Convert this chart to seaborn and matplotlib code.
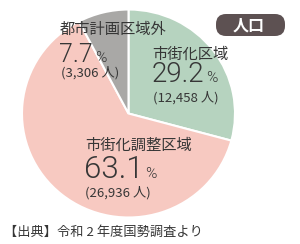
import matplotlib
matplotlib.use("Agg")
import matplotlib.pyplot as plt
import seaborn as sns
from matplotlib.patches import FancyBboxPatch

sns.set_theme(style="white")
plt.rcParams['font.family'] = ['Noto Sans CJK JP', 'DejaVu Sans']

categories = ["市街化区域", "市街化調整区域", "都市計画区域外"]
shares = [29.2, 63.1, 7.7]
people = ["12,458", "26,936", "3,306"]
colors = ["#b6d3bf", "#f7c9c1", "#a9a8a6"]
title_badge = "人口"
source = "【出典】令和 2 年度国勢調査より"

W, H = 300, 244
fig = plt.figure(figsize=(W / 100, H / 100), dpi=100)
fig.patch.set_facecolor("white")

cx, cy, rx, ry = 128.5, 113.5, 106.5, 104
ax = fig.add_axes([(cx - rx) / W, 1 - (cy + ry) / H, 2 * rx / W, 2 * ry / H])
ax.pie(shares, colors=colors, startangle=90, counterclock=False,
       wedgeprops=dict(edgecolor="white", linewidth=1.5))
ax.set_aspect("auto")
ax.set_xlim(-1, 1)
ax.set_ylim(-1, 1)
ax.axis("off")

# overlay axes in pixel coordinates for annotations
ov = fig.add_axes([0, 0, 1, 1])
ov.set_xlim(0, W)
ov.set_ylim(H, 0)
ov.axis("off")
ov.patch.set_alpha(0)

tc = "#363636"
numfont = ["Roboto", "DejaVu Sans"]
renderer = fig.canvas.get_renderer()

# (name, pct, people, name_x, name_y, pct_x, pct_baseline, pct_size, ppl_x, ppl_y)
blocks = [
    (categories[2], shares[2], people[2], 60, 29, 59, 62, 18, 61, 72.5),
    (categories[0], shares[0], people[0], 152, 54, 152, 82, 20, 153, 98),
    (categories[1], shares[1], people[1], 85, 145, 84, 178, 22.5, 85, 192.5),
]
for name, pct, ppl, nx, ny, px, py, ps, qx, qy in blocks:
    ov.text(nx, ny, name, fontsize=11, color=tc, ha="left", va="center")
    t = ov.text(px, py, f"{pct:.1f}", fontsize=ps, color=tc, ha="left",
                va="baseline", family=numfont, fontweight=300)
    bb = t.get_window_extent(renderer)
    ex = bb.x1 * W / fig.bbox.width
    ov.text(ex + 2, py, "%", fontsize=11, color=tc, ha="left", va="baseline",
            family=numfont, fontweight=300)
    ov.text(qx, qy, f"({ppl} 人)", fontsize=9.5, color=tc, ha="left", va="center")

# badge
bx0, by0, bw, bh = 216, 14, 69, 22
badge = FancyBboxPatch((bx0, by0), bw, bh,
                       boxstyle="round,pad=0,rounding_size=10",
                       facecolor="#5d5152", edgecolor="none")
ov.add_patch(badge)
ov.text(bx0 + 33, by0 + bh / 2 + 0.5, title_badge, fontsize=11.5,
        color="white", fontweight="bold", ha="center", va="center")

ov.text(4, 232, source, fontsize=9.5, color=tc, ha="left", va="center")

fig.savefig("out.png", dpi=100)
